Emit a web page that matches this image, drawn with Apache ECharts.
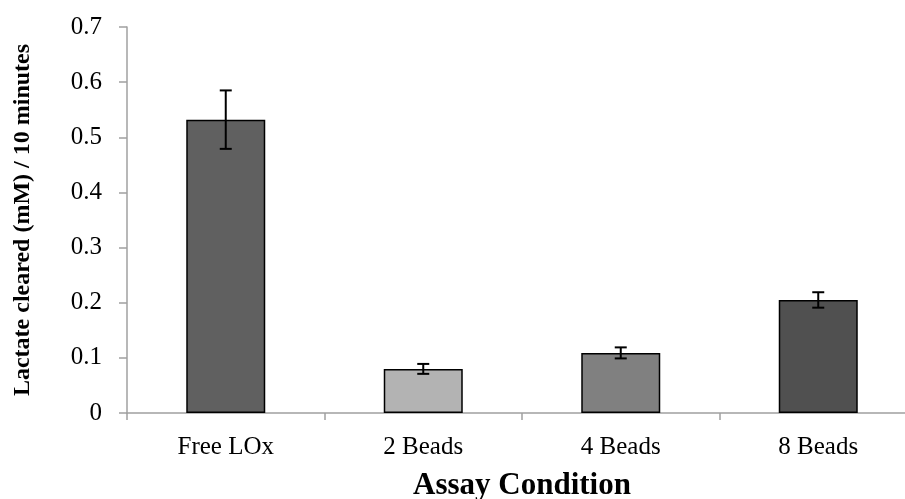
<!DOCTYPE html>
<html>
<head>
<meta charset="utf-8">
<script src="https://cdn.jsdelivr.net/npm/echarts@6/dist/echarts.min.js"></script>
<style>
	html, body { margin: 0; padding: 0; background: #fff; }
	#chart { width: 905px; height: 499px; }
</style>
</head>
<body>
<div id="chart"></div>
<script>
// data
var categories = ['Free LOx', '2 Beads', '4 Beads', '8 Beads'];
var lactateCleared = [0.532, 0.080, 0.109, 0.205];
var errors = [0.053, 0.009, 0.010, 0.014];
var yTicks = [0, 0.1, 0.2, 0.3, 0.4, 0.5, 0.6, 0.7];

// bar fills
var barColors = ['#606060', '#b3b3b3', '#808080', '#505050'];

var chart = echarts.init(document.getElementById('chart'));

var serif = '"Liberation Serif", "Times New Roman", serif';
var axisGray = '#a0a0a0';

var barData = lactateCleared.map(function(v, i) {
	return {
		value: v,
		itemStyle: { color: barColors[i] }
	};
});

var errorData = lactateCleared.map(function(v, i) {
	return [i, v - errors[i], v + errors[i]];
});

var option = {
	animation: false,
	grid: {
		left: 127,
		top: 27,
		bottom: 86,
		right: -12,
		containLabel: false,
		outerBoundsMode: 'none'
	},
	xAxis: {
		type: 'category',
		data: categories,
		name: 'Assay Condition',
		nameLocation: 'middle',
		nameGap: 57,
		nameTextStyle: {
			fontFamily: serif,
			fontSize: 31,
			fontWeight: 'bold',
			color: '#000'
		},
		axisLine: { lineStyle: { color: axisGray, width: 1.5 } },
		axisTick: { show: true, alignWithLabel: false, length: 7, lineStyle: { color: axisGray, width: 1.5 } },
		axisLabel: {
			fontFamily: serif,
			fontSize: 25,
			color: '#000',
			margin: 22
		}
	},
	yAxis: {
		type: 'value',
		min: yTicks[0],
		max: yTicks[yTicks.length - 1],
		interval: 0.1,
		name: 'Lactate cleared (mM) / 10 minutes',
		nameLocation: 'middle',
		nameGap: 92,
		nameTextStyle: {
			fontFamily: serif,
			fontSize: 24,
			fontWeight: 'bold',
			color: '#000'
		},
		splitLine: { show: false },
		axisLine: { show: true, lineStyle: { color: axisGray, width: 1.5 } },
		axisTick: { show: true, length: 8, lineStyle: { color: axisGray, width: 1.5 } },
		axisLabel: {
			fontFamily: serif,
			fontSize: 25,
			color: '#000',
			margin: 25,
			formatter: function(v) {
				return v === 0 ? '0' : v.toFixed(1);
			}
		}
	},
	series: [{
		type: 'bar',
		data: barData,
		barWidth: 79,
		itemStyle: {
			borderColor: '#000',
			borderWidth: 1.5
		}
	}, {
		type: 'custom',
		data: errorData,
		z: 10,
		renderItem: function(params, api) {
			var lo = api.coord([api.value(0), api.value(1)]);
			var hi = api.coord([api.value(0), api.value(2)]);
			var half = 6;
			var style = { stroke: '#000', lineWidth: 2 };
			return {
				type: 'group',
				children: [{
					type: 'line',
					shape: { x1: lo[0], y1: lo[1], x2: hi[0], y2: hi[1] },
					style: style
				}, {
					type: 'line',
					shape: { x1: hi[0] - half, y1: hi[1], x2: hi[0] + half, y2: hi[1] },
					style: style
				}, {
					type: 'line',
					shape: { x1: lo[0] - half, y1: lo[1], x2: lo[0] + half, y2: lo[1] },
					style: style
				}]
			};
		}
	}]
};

chart.setOption(option);
</script>
</body>
</html>
